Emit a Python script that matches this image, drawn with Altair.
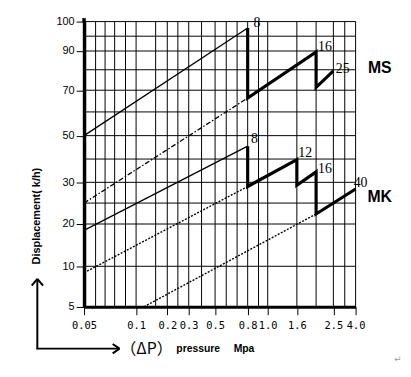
import altair as alt
import pandas as pd

# ---- axis values (grid lines and labelled ticks) ----
x_grid = [0.05, 0.06, 0.07, 0.08, 0.09, 0.1, 0.15, 0.2, 0.25, 0.3, 0.4, 0.5,
          0.6, 0.7, 0.8, 0.9, 1.0, 1.6, 2.0, 2.5, 3.0, 4.0]
y_grid = [5, 10, 20, 25, 30, 40, 50, 60, 70, 80, 90, 95, 100]
x_ticks = [0.05, 0.1, 0.2, 0.3, 0.5, 0.8, 1.0, 1.6, 2.5, 4.0]
y_ticks = [5, 10, 20, 30, 50, 70, 90, 100]

# ---- series (pressure Mpa, displacement) ----
ms_thin_x = [0.05, 0.8]
ms_thin_y = [50, 97.8]
ms_thick_x = [0.8, 0.8, 2.0, 2.0, 2.5]
ms_thick_y = [97.8, 66.4, 89.5, 71.4, 79.5]
ms_dash_x = [0.05, 0.8]
ms_dash_y = [25, 66.4]

mk_thin_x = [0.05, 0.8]
mk_thin_y = [18.5, 45.5]
mk_thick_x = [0.8, 0.8, 1.6, 1.6, 2.0, 2.0, 4.0]
mk_thick_y = [45.5, 29, 39.7, 29.3, 34.5, 22.4, 28.4]
mk_dot1_x = [0.05, 0.8]
mk_dot1_y = [9.2, 29]
mk_dot2_x = [0.12, 2.0]
mk_dot2_y = [5, 22.4]

label_text = ["8", "16", "25", "8", "12", "16", "40"]
label_x = [0.8, 2.0, 2.5, 0.8, 1.6, 2.0, 4.0]
label_y = [97.8, 89.5, 79.5, 45.5, 39.7, 34.5, 28.4]

series_names = ["MS", "MK"]
series_end_x = [2.5, 4.0]
series_end_y = [79.5, 28.4]

# ---- layout / style (hand-drawn, non-uniform scale) ----
X_RANGE = [0, 11.7, 21.3, 31, 42, 52.7, 72.5, 84.3, 95, 106, 119, 132.7,
           144, 155, 165.7, 176.7, 186, 215.5, 235, 252.5, 264, 275]
Y_RANGE = [288.8, 247.8, 205, 183.8, 162.8, 139.2, 115.5, 91.5, 69.5, 48.8,
           29.8, 14.8, 0]
W, H = 275, 288.8

xs = alt.Scale(type="linear", domain=x_grid, range=X_RANGE, nice=False, zero=False)
ys = alt.Scale(type="linear", domain=y_grid, range=Y_RANGE, nice=False, zero=False)

x_axis = alt.Axis(values=x_ticks, title=None, grid=False, domainColor="black",
                  domainWidth=3, tickColor="black", tickSize=8, tickWidth=1,
                  labelFont="DejaVu Sans Mono", labelFontSize=10.5, labelColor="black",
                  labelPadding=6, labelOverlap=False, labelFlush=False,
                  labelBaseline="top",
                  labelExpr="datum.value < 0.1 ? format(datum.value, '.2f') : format(datum.value, '.1f')")
y_axis = alt.Axis(values=y_ticks, title=None, grid=False, domainColor="black",
                  domainWidth=3.5, tickColor="black", tickSize=8, tickWidth=1,
                  labelFont="Liberation Sans", labelFontSize=11, labelColor="black",
                  labelPadding=2, labelOverlap=False, labelFlush=False)


def X():
    return alt.X("x:Q", scale=xs, axis=x_axis)


def Y():
    return alt.Y("y:Q", scale=ys, axis=y_axis)


layers = []

# grid
layers.append(alt.Chart(pd.DataFrame({"x": x_grid})).mark_rule(color="black", strokeWidth=1)
              .encode(x=X()))
layers.append(alt.Chart(pd.DataFrame({"y": y_grid})).mark_rule(color="black", strokeWidth=1)
              .encode(y=Y()))


def line(xv, yv, **kw):
    df = pd.DataFrame({"x": xv, "y": yv, "i": list(range(len(xv)))})
    return alt.Chart(df).mark_line(color="black", strokeCap="butt", **kw).encode(
        x=X(), y=Y(), order=alt.Order("i:Q"))


layers.append(line(ms_thin_x, ms_thin_y, strokeWidth=1.3))
layers.append(line(ms_dash_x, ms_dash_y, strokeWidth=1.3, strokeDash=[5, 2, 1.5, 2]))
layers.append(line(ms_thick_x, ms_thick_y, strokeWidth=3.2, strokeJoin="miter"))
layers.append(line(mk_thin_x, mk_thin_y, strokeWidth=1.3))
layers.append(line(mk_dot1_x, mk_dot1_y, strokeWidth=1.4, strokeDash=[2, 1.5]))
layers.append(line(mk_dot2_x, mk_dot2_y, strokeWidth=1.4, strokeDash=[2, 1.5]))
layers.append(line(mk_thick_x, mk_thick_y, strokeWidth=3.2, strokeJoin="miter"))

# model labels
label_offsets = [(6, -1), (2, -1), (2.5, 2.7), (3.5, -3.7), (1.5, -2.3), (2, 1.3), (-2, -2)]
for t, lx, ly, (dx, dy) in zip(label_text, label_x, label_y, label_offsets):
    layers.append(alt.Chart(pd.DataFrame({"x": [lx], "y": [ly], "t": [t]}))
                  .mark_text(font="Liberation Serif", fontSize=14, align="left",
                             baseline="alphabetic", dx=dx, dy=dy, color="black")
                  .encode(x=X(), y=Y(), text="t:N"))

series_offsets = [(35, -3), (12, 8)]
for t, lx, ly, (dx, dy) in zip(series_names, series_end_x, series_end_y, series_offsets):
    layers.append(alt.Chart(pd.DataFrame({"x": [lx], "y": [ly], "t": [t]}))
                  .mark_text(font="Liberation Sans", fontSize=16, fontWeight="bold",
                             align="left", baseline="middle", dx=dx, dy=dy, color="black")
                  .encode(x=X(), y=Y(), text="t:N"))

# left axis runs a little above the top grid line
layers.append(alt.Chart(pd.DataFrame({"a": [0]})).mark_rule(color="black", strokeWidth=3.5)
              .encode(x=alt.value(0), y=alt.value(-3.5), y2=alt.value(1)))

# decorations: arrows and titles
one = pd.DataFrame({"a": [0]})


def rule(x1, y1, x2, y2, w=2):
    return alt.Chart(one).mark_rule(color="black", strokeWidth=w).encode(
        x=alt.value(x1), y=alt.value(y1), x2=alt.value(x2), y2=alt.value(y2))


layers.append(rule(-47.3, 260.5, -47.3, 331.8))
layers.append(rule(-48.3, 331.2, 35.5, 331.2))
layers.append(rule(29, 326.5, 36, 331.2))
layers.append(rule(29, 336, 36, 331.2))
layers.append(rule(-53, 267.5, -47.3, 260.5))
layers.append(rule(-41.5, 267.5, -47.3, 260.5))


def note(text, x, y, color="black", **kw):
    return alt.Chart(one).mark_text(color=color, **kw).encode(
        x=alt.value(x), y=alt.value(y), text=alt.value(text))


layers.append(note("Displacement( k/h)", -47.5, 197, font="Liberation Sans", fontSize=11,
                   fontWeight="bold", angle=270, align="center", baseline="middle"))
layers.append(note("（ΔP）", 37, 331.5, font="Noto Sans CJK SC", fontSize=16,
                   align="left", baseline="middle"))
layers.append(note("pressure", 93.5, 335, font="Liberation Sans", fontSize=10.5,
                   fontWeight="bold", align="left", baseline="alphabetic"))
layers.append(note("Mpa", 151.5, 335, font="Liberation Sans", fontSize=10.5,
                   fontWeight="bold", align="left", baseline="alphabetic"))
layers.append(note("↵", 318, 341.5, color="#999999", font="DejaVu Sans", fontSize=9,
                   align="center", baseline="middle"))

chart = alt.layer(*layers).properties(
    width=W, height=H,
    padding={"left": 77, "top": 11.5, "right": 48, "bottom": 55},
    autosize=alt.AutoSizeParams(type="none"),
    background="white",
).configure_view(stroke=None)

chart.save("out.html", embed_options={"renderer": "svg", "actions": False})
